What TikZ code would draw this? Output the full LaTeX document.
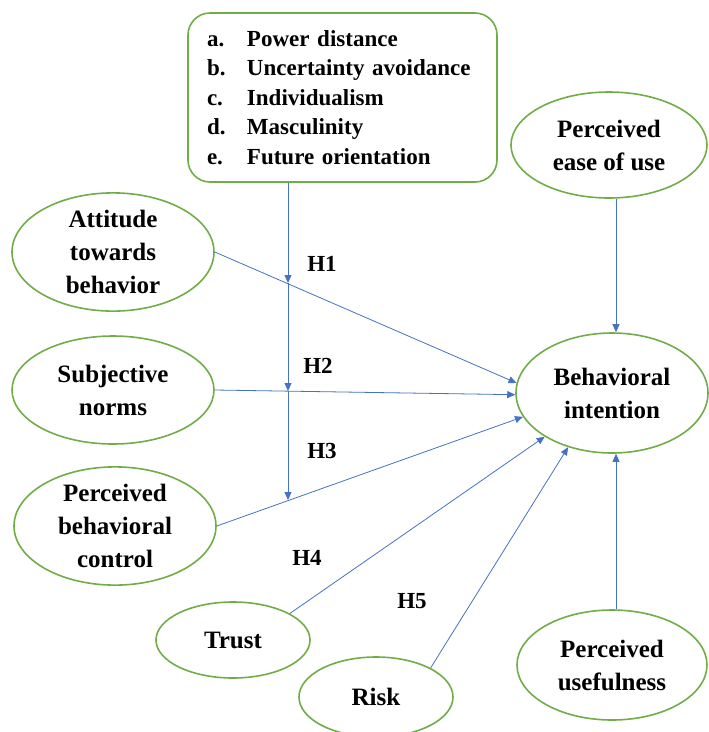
\documentclass[tikz,border=0pt]{standalone}
\usepackage{fontspec}
\setmainfont{Liberation Serif}
\usetikzlibrary{shapes.geometric,arrows.meta,calc}
\definecolor{ogreen}{HTML}{70AD47}
\definecolor{oblue}{HTML}{4472C4}
\begin{document}
\begin{tikzpicture}[x=1pt,y=-1pt,
  construct/.style={ellipse,draw=ogreen,line width=1.6pt,inner sep=0pt,align=center,
    font=\fontsize{25}{33}\selectfont\bfseries},
  listbox/.style={draw=ogreen,line width=1.6pt,rounded corners=22pt,inner xsep=19pt,inner ysep=0pt,
    align=left,font=\fontsize{23}{29.5}\selectfont\bfseries},
  hlabel/.style={font=\fontsize{23}{27}\selectfont\bfseries,inner sep=0pt},
  link/.style={draw=oblue,line width=0.8pt,-{Triangle[length=8pt,width=7pt]}},
  plain/.style={draw=oblue,line width=0.8pt}]
\useasboundingbox (0,0) rectangle (709,732);
\node[listbox,minimum width=309pt,minimum height=169pt,text width=271pt] (box) at (342.5,97.5)
 {\makebox[40pt][l]{a.}Power distance\\
  \makebox[40pt][l]{b.}Uncertainty avoidance\\
  \makebox[40pt][l]{c.}Individualism\\
  \makebox[40pt][l]{d.}Masculinity\\
  \makebox[40pt][l]{e.}Future orientation};
\node[construct,minimum width=202pt,minimum height=110pt] (att) at (113,252) {Attitude\\towards\\behavior};
\node[construct,minimum width=202pt,minimum height=108pt] (sub) at (113,390) {Subjective\\norms};
\node[construct,minimum width=202pt,minimum height=110pt] (pbc) at (115,526) {Perceived\\behavioral\\control};
\node[construct,minimum width=196pt,minimum height=106pt] (peou) at (609,145) {Perceived\\ease of use};
\node[construct,minimum width=192pt,minimum height=120pt] (bi) at (612,393) {Behavioral\\intention};
\node[construct,minimum width=154pt,minimum height=76pt] (trust) at (233,640) {Trust};
\node[construct,minimum width=154pt,minimum height=80pt] (risk) at (376,697) {Risk};
\node[construct,minimum width=190pt,minimum height=110pt] (pu) at (612,665) {Perceived\\usefulness};
\node[hlabel] (h1) at (322,264) {H1};
\node[hlabel] (h2) at (318,366) {H2};
\node[hlabel] (h3) at (322,451) {H3};
\node[hlabel] (h4) at (307,558) {H4};
\node[hlabel] (h5) at (412,601) {H5};
\coordinate (lx) at (616,0);
\coordinate (m1) at (288,283);
\coordinate (m2) at (288,391);
\coordinate (m3) at (288,500);
\draw[link] (box.south -| m1) -- (m1);
\draw[link] (m1) -- (m2);
\draw[link] (m2) -- (m3);
\draw[link] (att.east) -- (bi.174);
\draw[link] (sub.east) -- (bi.181);
\draw[link] (pbc.east) -- (bi.195);
\draw[link] (trust.25) -- (bi.213);
\draw[link] (risk.28) -- (bi.231);
\draw[link] (peou.south -| lx) -- (bi.north -| lx);
\draw[link] (pu.north -| lx) -- (bi.south -| lx);
\end{tikzpicture}
\end{document}
